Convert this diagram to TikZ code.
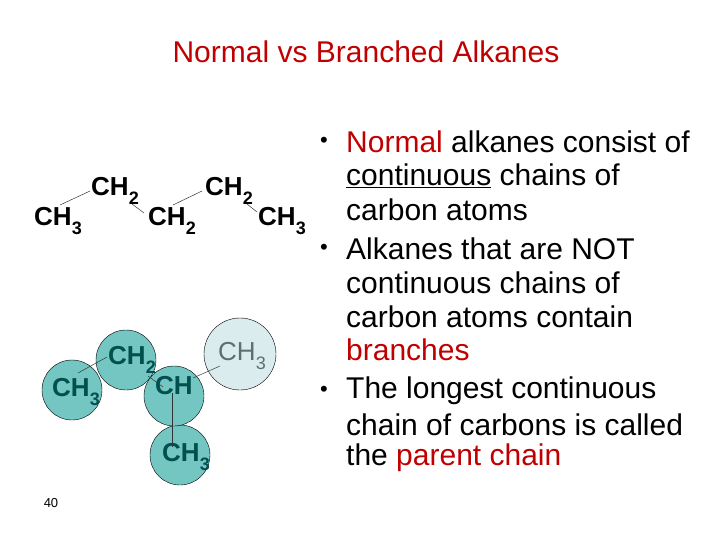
\documentclass[tikz,border=0pt]{standalone}
\usepackage{fontspec}
\setmainfont{Liberation Sans}
\definecolor{tred}{RGB}{192,0,0}
\definecolor{teal1}{RGB}{115,198,194}
\definecolor{tealdk}{RGB}{0,80,80}
\definecolor{lightc}{RGB}{218,236,238}
\definecolor{grayt}{RGB}{95,110,112}
\newcommand{\lowsub}[1]{\raisebox{-0.35em}{\fontsize{18}{18}\selectfont #1}}
\begin{document}
\begin{tikzpicture}[x=1pt,y=-1pt,
  mol/.style={font=\fontsize{26}{26}\selectfont\bfseries,inner sep=0pt},
  atom/.style={circle,draw=black,fill=teal1,minimum size=60pt,inner sep=0pt},
  bond/.style={draw=black!80,line width=0.5pt},
  txt/.style={font=\fontsize{30}{30}\selectfont,anchor=west,inner sep=0pt}]
\useasboundingbox (0,0) rectangle (720,540);
\node[font=\fontsize{30}{30}\selectfont,text=tred] (title) at (366,52) {Normal vs Branched Alkanes};
% top chain
\node[mol] (a1) at (58,221) {CH\lowsub{3}};
\node[mol] (a2) at (115,191) {CH\lowsub{2}};
\node[mol] (a3) at (172,221) {CH\lowsub{2}};
\node[mol] (a4) at (229,191) {CH\lowsub{2}};
\node[mol] (a5) at (282,221) {CH\lowsub{3}};
\coordinate (p1) at (60,205); \coordinate (q1) at (90,191);
\coordinate (p2) at (132,204); \coordinate (q2) at (144,213);
\coordinate (p3) at (173,205); \coordinate (q3) at (202,191);
\coordinate (p4) at (247,204); \coordinate (q4) at (257,212);
\draw[bond] (p1)--(q1); \draw[bond] (p2)--(q2); \draw[bond] (p3)--(q3); \draw[bond] (p4)--(q4);
% branched
\node[atom,fill=lightc,minimum size=72pt] (c5) at (240,354) {};
\node[atom] (c1) at (72,390) {};
\node[atom] (c2) at (126,360) {};
\node[atom] (c4) at (180,455) {};
\node[atom] (c3) at (174,396) {};
\coordinate (r1) at (78,373); \coordinate (s1) at (107,357);
\coordinate (r2) at (148,376); \coordinate (s2) at (163,387);
\coordinate (r3) at (193,378); \coordinate (s3) at (220,366);
\coordinate (r4) at (172,393); \coordinate (s4) at (172,447);
\draw[bond] (r1)--(s1); \draw[bond] (r2)--(s2); \draw[bond] (r3)--(s3); \draw[bond] (r4)--(s4);
\node[mol,text=tealdk] (t1) at (76,392) {CH\lowsub{3}};
\node[mol,text=tealdk] (t2) at (132,360) {CH\lowsub{2}};
\node[mol,text=tealdk] (t3) at (174,386) {CH};
\node[mol,text=tealdk] (t4) at (186,457) {CH\lowsub{3}};
\node[mol,text=grayt,font=\fontsize{26}{26}\selectfont] (t5) at (242,356) {CH\lowsub{3}};
\node[font=\fontsize{13}{13}\selectfont] (pg) at (51,503) {40};
% bullets
\node[txt,font=\fontsize{22}{22}\selectfont] (b1) at (320,142) {•};
\node[txt,font=\fontsize{22}{22}\selectfont] (b2) at (320,249) {•};
\node[txt,font=\fontsize{22}{22}\selectfont] (b3) at (320,391) {•};
\node[txt] (l1) at (346,142) {\textcolor{tred}{Normal} alkanes consist of};
\node[txt] (l2) at (346,176) {\underline{continuous} chains of};
\node[txt] (l3) at (346,210) {carbon atoms};
\node[txt] (l4) at (346,249) {Alkanes that are NOT};
\node[txt] (l5) at (346,283) {continuous chains of};
\node[txt] (l6) at (346,317) {carbon atoms contain};
\node[txt,text=tred] (l7) at (346,350) {branches};
\node[txt] (l8) at (346,391) {The longest continuous};
\node[txt] (l9) at (346,425) {chain of carbons is called};
\node[txt] (l10) at (346,458) {the \textcolor{tred}{parent chain}};
\end{tikzpicture}
\end{document}
